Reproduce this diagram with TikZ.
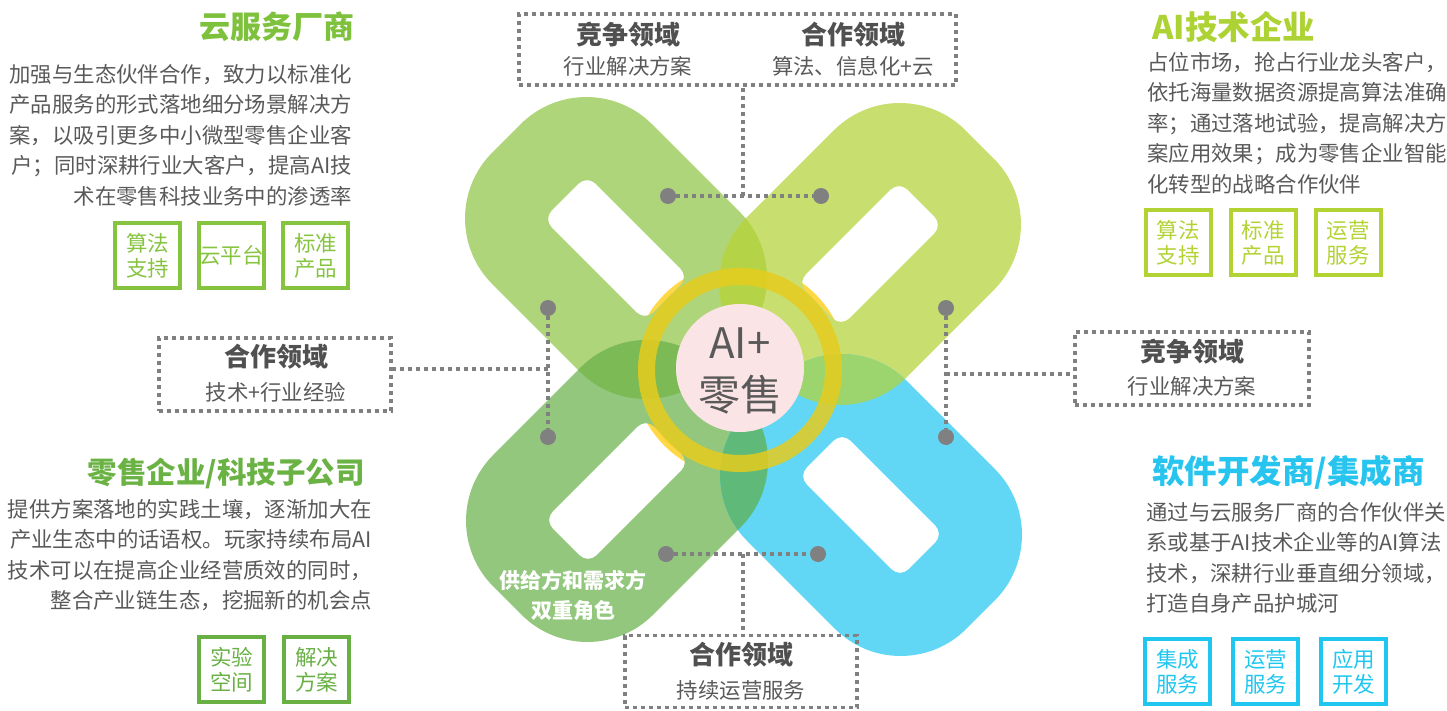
\documentclass[tikz,border=0pt]{standalone}
\usepackage{fontspec}
\setmainfont{Noto Sans CJK SC}
\usetikzlibrary{positioning}

\definecolor{leafA}{RGB}{175,213,122}
\definecolor{leafB}{RGB}{200,223,112}
\definecolor{leafC}{RGB}{147,199,125}
\definecolor{leafD}{RGB}{98,215,245}
\definecolor{lensTop}{RGB}{180,211,70}
\definecolor{lensLeft}{RGB}{123,186,85}
\definecolor{lensRight}{RGB}{156,212,110}
\definecolor{lensBottom}{RGB}{95,186,122}
\definecolor{ringyellow}{RGB}{230,204,30}
\definecolor{discyellow}{RGB}{255,215,71}
\definecolor{hubpink}{RGB}{251,228,230}
\definecolor{linegray}{RGB}{128,128,128}
\definecolor{bodygray}{RGB}{89,89,89}
\definecolor{headgray}{RGB}{80,80,80}
\definecolor{cloudgreen}{RGB}{125,193,60}
\definecolor{cloudchip}{RGB}{134,196,64}
\definecolor{aigreen}{RGB}{173,210,51}
\definecolor{aichip}{RGB}{179,210,52}
\definecolor{retailgreen}{RGB}{107,178,68}
\definecolor{retailchip}{RGB}{104,176,68}
\definecolor{softblue}{RGB}{38,196,238}
\definecolor{softchip}{RGB}{31,198,240}

\begin{document}
\begin{tikzpicture}[
		x=1pt, y=-1pt,
		node distance=16pt,
		petal/.style={rounded corners=93pt},
		hole/.style={rounded corners=12pt},
		dotline/.style={draw=linegray, line width=3.5pt, dash pattern=on 4pt off 4pt},
		areabox/.style={dotline, inner sep=0pt},
		joint/.style={circle, fill=linegray, minimum size=16pt, inner sep=0pt},
		chip/.style={draw=#1, text=#1, line width=4pt, minimum size=65pt, inner sep=0pt, align=center, font=\fontsize{21.5}{25}\selectfont},
		heading/.style={text=#1, font=\fontsize{31}{31}\selectfont\bfseries, inner sep=0pt},
		body/.style={text=bodygray, font=\fontsize{21.4}{30.5}\selectfont, inner sep=0pt},
		areahead/.style={text=headgray, font=\fontsize{26}{26}\selectfont\bfseries, inner sep=0pt},
		areatext/.style={text=bodygray, font=\fontsize{21.4}{21.4}\selectfont, inner sep=0pt},
	]
		\useasboundingbox (0,0) rectangle (1447,711);

		% the four links of the cross, a yellow disc shows through the holes
		\fill[discyellow] (740,370) circle (107);
		\foreach \px/\py/\ang/\col in {616/248/-45/leafA, 870/254/45/leafB, 617/491/45/leafC, 871/505/-45/leafD}
			\fill[\col, even odd rule, shift={(\px,\py)}, rotate=\ang]
				[petal] (-155,-113) rectangle (155,113)
				[hole] (-72,-31) rectangle (72,31);

		% overlaps of neighbouring links
		\foreach \ax/\ay/\aa/\bx/\by/\ba/\col in {616/248/-45/870/254/45/lensTop, 616/248/-45/617/491/45/lensLeft, 870/254/45/871/505/-45/lensRight, 617/491/45/871/505/-45/lensBottom}{
			\begin{scope}
				\clip[petal, shift={(\ax,\ay)}, rotate=\aa] (-155,-113) rectangle (155,113);
				\fill[\col, even odd rule, shift={(\bx,\by)}, rotate=\ba]
					[petal] (-155,-113) rectangle (155,113)
					[hole] (-72,-31) rectangle (72,31);
			\end{scope}
		}

		\node[circle, draw=ringyellow, draw opacity=0.85, line width=17pt, minimum size=187pt, inner sep=0pt] (ring) at (740,370) {};
		\node[circle, fill=hubpink, minimum size=128pt, inner sep=0pt] (hub) at (740,368) {};
		\node[text=bodygray, font=\fontsize{42}{42}\selectfont, inner sep=0pt] (hubTop) at (740,343) {AI+};
		\node[text=bodygray, font=\fontsize{42}{42}\selectfont, inner sep=0pt] (hubBottom) at (740,395) {零售};

		\node[text=white, font=\fontsize{21}{30}\selectfont\bfseries, align=center, inner sep=0pt] (dualRole) at (573,595) {供给方和需求方\\双重角色};

		% dotted areas
		\node[areabox, minimum width=437pt, minimum height=71pt] (topBox) at (737.5,49.5) {};
		\node[areahead] (topHeadA) at (628,35) {竞争领域};
		\node[areatext] (topTextA) at (628,66) {行业解决方案};
		\node[areahead] (topHeadB) at (853,35) {合作领域};
		\node[areatext] (topTextB) at (853,66) {算法、信息化+云};

		\node[areabox, minimum width=232pt, minimum height=73pt] (leftBox) at (275,374.5) {};
		\node[areahead] (leftHead) at (276,357) {合作领域};
		\node[areatext] (leftText) at (276,392) {技术+行业经验};

		\node[areabox, minimum width=234pt, minimum height=73pt] (rightBox) at (1192,368.5) {};
		\node[areahead] (rightHead) at (1192,352) {竞争领域};
		\node[areatext] (rightText) at (1192,386) {行业解决方案};

		\node[areabox, minimum width=232pt, minimum height=72pt] (bottomBox) at (741,671.5) {};
		\node[areahead] (bottomHead) at (741,655) {合作领域};
		\node[areatext] (bottomText) at (741,690) {持续运营服务};

		% connectors
		\node[joint] (topJointL) at (668,196) {};
		\node[joint] (topJointR) at (821,196) {};
		\coordinate (topJoin) at (743,196);
		\draw[dotline] (topJointL) -- (topJointR);
		\draw[dotline] (topJoin) -- (topJoin |- topBox.south);

		\node[joint] (leftJointT) at (548,308) {};
		\node[joint] (leftJointB) at (548,437) {};
		\coordinate (leftJoin) at (548,369);
		\draw[dotline] (leftJointT) -- (leftJointB);
		\draw[dotline] (leftJoin) -- (leftJoin -| leftBox.east);

		\node[joint] (rightJointT) at (946,308) {};
		\node[joint] (rightJointB) at (946,437) {};
		\coordinate (rightJoin) at (946,374);
		\draw[dotline] (rightJointT) -- (rightJointB);
		\draw[dotline] (rightJoin) -- (rightJoin -| rightBox.west);

		\node[joint] (bottomJointL) at (666,554) {};
		\node[joint] (bottomJointR) at (818,554) {};
		\coordinate (bottomJoin) at (743,554);
		\draw[dotline] (bottomJointL) -- (bottomJointR);
		\draw[dotline] (bottomJoin) -- (bottomJoin |- bottomBox.north);

		% cloud vendors
		\node[heading=cloudgreen, anchor=east] (cloudTitle) at (355,27) {云服务厂商};
		\node[body, align=right, anchor=north east] (cloudText) at (352,64) {加强与生态伙伴合作，致力以标准化\\产品服务的形式落地细分场景解决方\\案，以吸引更多中小微型零售企业客\\户；同时深耕行业大客户，提高AI技\\术在零售科技业务中的渗透率};
		\node[chip=cloudchip] (cloudChipA) at (147.5,255.5) {算法\\支持};
		\node[chip=cloudchip, right=15pt of cloudChipA] (cloudChipB) {云平台};
		\node[chip=cloudchip, right=15pt of cloudChipB] (cloudChipC) {标准\\产品};

		% AI companies
		\node[heading=aigreen, anchor=west, font=\fontsize{32.5}{32.5}\selectfont\bfseries] (aiTitle) at (1152,27) {AI技术企业};
		\node[body, align=left, anchor=north west] (aiText) at (1147,52) {占位市场，抢占行业龙头客户，\\依托海量数据资源提高算法准确\\率；通过落地试验，提高解决方\\案应用效果；成为零售企业智能\\化转型的战略合作伙伴};
		\node[chip=aichip] (aiChipA) at (1178,242.5) {算法\\支持};
		\node[chip=aichip, right=of aiChipA] (aiChipB) {标准\\产品};
		\node[chip=aichip, right=of aiChipB] (aiChipC) {运营\\服务};

		% retailers
		\node[heading=retailgreen, anchor=east, font=\fontsize{29.5}{29.5}\selectfont\bfseries] (retailTitle) at (365,473) {零售企业/科技子公司};
		\node[body, align=right, anchor=north east] (retailText) at (372,499) {提供方案落地的实践土壤，逐渐加大在\\产业生态中的话语权。玩家持续布局AI\\技术可以在提高企业经营质效的同时，\\整合产业链生态，挖掘新的机会点};
		\node[chip=retailchip] (retailChipA) at (231.5,669.5) {实验\\空间};
		\node[chip=retailchip, right=of retailChipA] (retailChipB) {解决\\方案};

		% software vendors
		\node[heading=softblue, anchor=west, font=\fontsize{32.5}{32.5}\selectfont\bfseries] (softTitle) at (1152,472) {软件开发商/集成商};
		\node[body, align=left, anchor=north west] (softText) at (1146,502) {通过与云服务厂商的合作伙伴关\\系或基于AI技术企业等的AI算法\\技术，深耕行业垂直细分领域，\\打造自身产品护城河};
		\node[chip=softchip] (softChipA) at (1177.5,671.5) {集成\\服务};
		\node[chip=softchip, right=19pt of softChipA] (softChipB) {运营\\服务};
		\node[chip=softchip, right=19pt of softChipB] (softChipC) {应用\\开发};
	\end{tikzpicture}
\end{document}
